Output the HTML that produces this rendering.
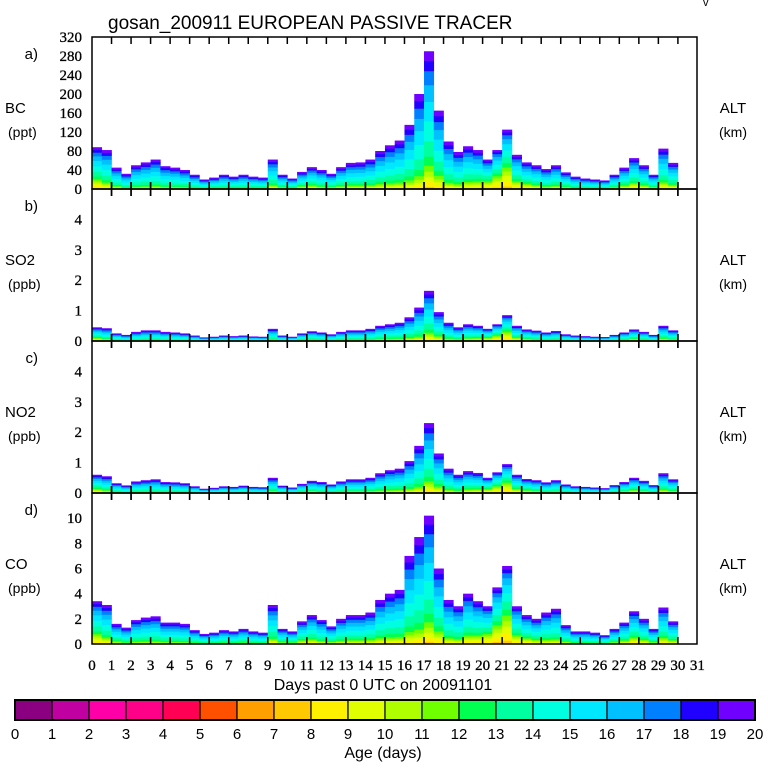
<!DOCTYPE html>
<html><head><meta charset="utf-8">
<style>
body{margin:0;background:#fff;width:768px;height:768px;overflow:hidden}
svg{display:block}
text{font-family:"Liberation Sans",sans-serif;fill:#000}
.tk{font-family:"Liberation Serif",serif;font-size:15px;stroke:#000;stroke-width:0.3}
</style></head><body>
<svg id="chart" width="768" height="768" viewBox="0 0 768 768"></svg>
<script>
const days = [0,0.5,1,1.5,2,2.5,3,3.5,4,4.5,5,5.5,6,6.5,7,7.5,8,8.5,9,9.5,10,10.5,11,11.5,12,12.5,13,13.5,14,14.5,15,15.5,16,16.5,17,17.5,18,18.5,19,19.5,20,20.5,21,21.5,22,22.5,23,23.5,24,24.5,25,25.5,26,26.5,27,27.5,28,28.5,29,29.5];
const bcValues = [88,82,45,32,50,56,62,48,45,40,30,20,24,30,26,30,26,24,62,30,22,36,46,40,32,46,55,56,62,80,92,102,135,200,290,165,100,78,90,82,62,82,125,72,56,50,42,50,35,26,22,20,18,30,45,65,50,30,85,55];
const so2Values = [0.45,0.42,0.25,0.2,0.3,0.35,0.35,0.3,0.28,0.25,0.18,0.12,0.14,0.18,0.16,0.18,0.15,0.14,0.4,0.18,0.14,0.25,0.32,0.28,0.22,0.3,0.35,0.35,0.4,0.5,0.55,0.6,0.78,1.1,1.65,0.95,0.6,0.45,0.55,0.5,0.4,0.55,0.85,0.5,0.38,0.34,0.28,0.33,0.22,0.18,0.16,0.14,0.13,0.2,0.28,0.38,0.3,0.2,0.5,0.35];
const no2Values = [0.6,0.55,0.32,0.25,0.38,0.42,0.45,0.36,0.35,0.32,0.22,0.14,0.17,0.22,0.2,0.24,0.2,0.19,0.5,0.24,0.18,0.3,0.4,0.36,0.28,0.38,0.45,0.45,0.5,0.65,0.75,0.8,1.05,1.55,2.3,1.3,0.8,0.6,0.72,0.66,0.5,0.68,0.95,0.6,0.46,0.42,0.35,0.42,0.28,0.22,0.2,0.18,0.16,0.26,0.36,0.5,0.4,0.26,0.65,0.45];
const coValues = [3.4,3.1,1.6,1.3,1.9,2.1,2.2,1.7,1.7,1.6,1.1,0.8,0.9,1.1,1.0,1.2,1.0,0.9,3.1,1.2,1.0,1.8,2.3,1.9,1.4,2.0,2.3,2.3,2.5,3.5,4.0,4.3,7.0,8.5,10.2,6.0,3.5,3.0,4.0,3.4,3.0,4.5,6.2,3.0,2.3,2.0,2.5,2.8,1.5,1.0,1.0,0.9,0.7,1.2,1.7,2.6,2.0,1.2,2.9,1.8];
const freshness = [0.5,0.3,0.2,0.1,0.1,0.1,0.1,0.1,0.1,0.1,0.1,0.1,0.1,0.1,0.1,0.1,0.1,0.1,0.2,0.2,0.2,0.3,0.3,0.2,0.2,0.2,0.2,0.2,0.2,0.2,0.2,0.2,0.2,0.2,0.3,0.3,0.2,0.2,0.3,0.4,0.6,0.8,0.9,0.5,0.4,0.3,0.2,0.2,0.2,0.1,0.1,0.1,0.1,0.2,0.3,0.4,0.3,0.2,0.3,0.3];
const agedProfile = [0,0,0,0,0,0,0,0.003,0.008,0.012,0.02,0.03,0.06,0.12,0.16,0.16,0.14,0.12,0.09,0.08];
const freshProfile = [0,0,0,0,0,0,0.01,0.04,0.1,0.1,0.08,0.07,0.08,0.1,0.1,0.1,0.08,0.06,0.04,0.04];
const ageColors = ["#8b0080","#c000a0","#ff00a8","#ff0088","#ff0055","#ff5000","#ffa000","#ffc800","#fff000","#e0ff00","#b0ff00","#70ff00","#00ff50","#00ffa0","#00ffe0","#00e8ff","#00c0ff","#0080ff","#2000ff","#7000ff"];
const xTickLabels = ["0","1","2","3","4","5","6","7","8","9","10","11","12","13","14","15","16","17","18","19","20","21","22","23","24","25","26","27","28","29","30","31"];
const bcTicks = [0,40,80,120,160,200,240,280,320];
const gasTicks = [0,1,2,3,4];
const coTicks = [0,2,4,6,8,10];

const NS="http://www.w3.org/2000/svg";
const svg=document.getElementById('chart');
function mk(tag,attrs,parent){const e=document.createElementNS(NS,tag);for(const k in attrs)e.setAttribute(k,attrs[k]);(parent||svg).appendChild(e);return e;}
const X0=92,DX=19.53,XR=697;
const xScale=d=>X0+d*DX;
function txt(s,x,y,size,anchor,cls,name){const t=mk('text',{x:x,y:y,'font-size':size,'text-anchor':anchor||'start'});if(cls)t.setAttribute('class',cls);t.textContent=s;


return t;}

txt("gosan_200911 EUROPEAN PASSIVE TRACER",108,29,19,'start',null,'chart-title');
txt("v",703,6,11,'start',null,'corner-mark');

const panels=[
 {id:'bc',letter:'a)',name:'BC',unit:'(ppt)',vals:bcValues,top:37,bot:189,max:320,ticks:bcTicks},
 {id:'so2',letter:'b)',name:'SO2',unit:'(ppb)',vals:so2Values,top:189,bot:341,max:5,ticks:gasTicks},
 {id:'no2',letter:'c)',name:'NO2',unit:'(ppb)',vals:no2Values,top:341,bot:493,max:5,ticks:gasTicks},
 {id:'co',letter:'d)',name:'CO',unit:'(ppb)',vals:coValues,top:493,bot:644,max:12,ticks:coTicks}
];
panels.forEach((p,pi)=>{
 const g=mk('g',{});
 
 
 const yS=v=>p.bot-(v/p.max)*(p.bot-p.top);
 const bw=DX*0.5;
 p.vals.forEach((v,i)=>{
  const f=freshness[i];
  let fr=agedProfile.map((a,k)=>a*(1-f)+freshProfile[k]*f);
  const sum=fr.reduce((a,b)=>a+b,0);
  let cum=0;
  const x=xScale(days[i]);
  fr.forEach((q,k)=>{
   if(q<=0)return;
   const y1=yS(v*cum/sum);cum+=q;const y2=yS(v*cum/sum);
   const r=mk('rect',{x:x.toFixed(2),y:y2.toFixed(2),width:(bw+0.3).toFixed(2),height:(y1-y2+0.3).toFixed(2),fill:ageColors[k]},g);
   
   
  });
 });
 const fr=mk('rect',{x:X0,y:p.top,width:XR-X0,height:p.bot-p.top,fill:'none',stroke:'#000','stroke-width':1.5},g);
 
 
 for(let d=1;d<=30;d++){
  const x=xScale(d);
  mk('line',{x1:x,x2:x,y1:p.top-(pi>0?7:0),y2:p.top+7,stroke:'#000','stroke-width':1.5},g);
  mk('line',{x1:x,x2:x,y1:p.bot-7,y2:p.bot+(pi<3?7:0),stroke:'#000','stroke-width':1.5},g);
 }
 p.ticks.forEach(t=>{
  const y=yS(t);
  txt(String(t),82,y+5,15,'end','tk','y-tick-'+p.id+'-'+t);
 });
 txt(p.letter,38,p.top+22,15,'end',null,'panel-label-'+p.id);
 txt(p.name,5,p.top+76,15,'start',null,'y-axis-title-'+p.id);
 txt(p.unit,8,p.top+100,14,'start',null,'y-axis-unit-'+p.id);
 txt('ALT',733,p.top+76,15,'middle',null,'right-axis-title-'+p.id);
 txt('(km)',733,p.top+100,14,'middle',null,'right-axis-unit-'+p.id);
});
xTickLabels.forEach((s,i)=>{txt(s,xScale(i),670,15,'middle','tk','x-tick-'+s);});
txt("Days past 0 UTC on 20091101",383,690,16,'middle',null,'x-axis-title');
const CB0=15,CB1=755,cw=(CB1-CB0)/20;
ageColors.forEach((c,i)=>{
 const r=mk('rect',{x:CB0+i*cw,y:700,width:cw,height:20,fill:c,stroke:'#000','stroke-width':1.2});
 
 
});
const cbf=mk('rect',{x:CB0,y:700,width:CB1-CB0,height:20,fill:'none',stroke:'#000','stroke-width':2});


for(let i=0;i<=20;i++)txt(String(i),CB0+i*cw,739,15,'middle',null,'colorbar-label-'+i);
txt("Age (days)",383,758,16,'middle',null,'colorbar-title');
</script>
</body></html>
